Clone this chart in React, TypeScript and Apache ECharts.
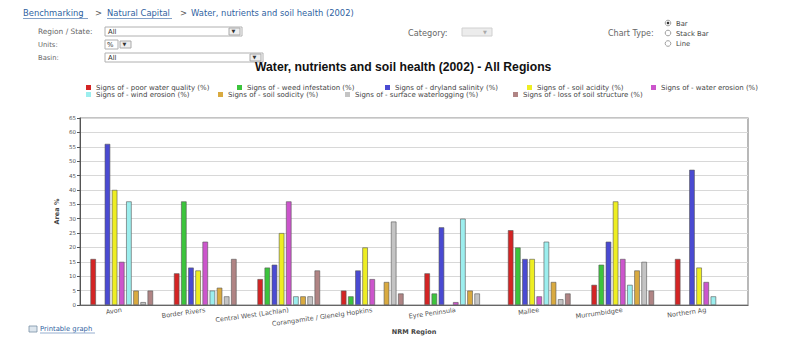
import React, { useEffect, useRef } from "react";
import * as echarts from "echarts";

const categories = [
  "Avon",
  "Border Rivers",
  "Central West (Lachlan)",
  "Corangamite / Glenelg Hopkins",
  "Eyre Peninsula",
  "Mallee",
  "Murrumbidgee",
  "Northern Ag",
];

const seriesNames = [
  "Signs of - poor water quality (%)",
  "Signs of - weed infestation (%)",
  "Signs of - dryland salinity (%)",
  "Signs of - soil acidity (%)",
  "Signs of - water erosion (%)",
  "Signs of - wind erosion (%)",
  "Signs of - soil sodicity (%)",
  "Signs of - surface waterlogging (%)",
  "Signs of - loss of soil structure (%)",
];

const poorWaterQuality = [16, 11, 9, 5, 11, 26, 7, 16];
const weedInfestation = [0, 36, 13, 3, 4, 20, 14, 0];
const drylandSalinity = [56, 13, 14, 12, 27, 16, 22, 47];
const soilAcidity = [40, 12, 25, 20, 0, 16, 36, 13];
const waterErosion = [15, 22, 36, 9, 1, 3, 16, 8];
const windErosion = [36, 5, 3, 0, 30, 22, 7, 3];
const soilSodicity = [5, 6, 3, 8, 5, 8, 12, 0];
const surfaceWaterlogging = [1, 3, 3, 29, 4, 2, 15, 0];
const lossOfSoilStructure = [5, 16, 12, 4, 0, 4, 5, 0];

const seriesValues = [
  poorWaterQuality,
  weedInfestation,
  drylandSalinity,
  soilAcidity,
  waterErosion,
  windErosion,
  soilSodicity,
  surfaceWaterlogging,
  lossOfSoilStructure,
];

const yTicks = { min: 0, max: 65, interval: 5 };

const colors = [
  "#d42424",
  "#3cc43c",
  "#4a4ad2",
  "#eeee22",
  "#cc55cc",
  "#9ceeee",
  "#d9aa40",
  "#c4c4c4",
  "#b08484",
];

const legendPos = [
  [86, 84],
  [237, 84],
  [385, 84],
  [527, 84],
  [651, 84],
  [86, 91],
  [218, 91],
  [345, 91],
  [513, 91],
];

const FONT = "DejaVu Sans, Verdana, sans-serif";
const TITLE_FONT = "Liberation Sans, Arial, sans-serif";
const X_LABEL_SIZE = 6.5;
const X_ROTATE = 8;

function textWidth(text: string, size: number, family: string) {
  const c = document.createElement("canvas").getContext("2d");
  if (!c) return text.length * size * 0.55;
  c.font = `${size}px ${family}`;
  return c.measureText(text).width;
}

export default function App() {
  const ref = useRef<HTMLDivElement>(null);
  useEffect(() => {
    document.body.style.margin = "0";
    const chart = echarts.init(ref.current!, null, { renderer: "svg" });
    const labelStyle = { fontSize: 6.8, fill: "#666", fontFamily: FONT };
    const linkStyle = { fontSize: 8.4, fill: "#2f5f9f", fontFamily: FONT };
    const boxStyle = { fill: "#fff", stroke: "#b0b0b0", lineWidth: 1 };
    const btnStyle = { fill: "#eee", stroke: "#aaa", lineWidth: 1 };
    const graphic: any[] = [
      { type: "text", left: 23, top: 8.5, style: { ...linkStyle, text: "Benchmarking" } },
      { type: "line", shape: { x1: 23, y1: 18.5, x2: 88, y2: 18.5 }, style: { stroke: "#2f5f9f", lineWidth: 0.6 } },
      { type: "text", left: 95, top: 8.5, style: { ...linkStyle, fill: "#555", text: ">" } },
      { type: "text", left: 107, top: 8.5, style: { ...linkStyle, text: "Natural Capital" } },
      { type: "line", shape: { x1: 107, y1: 18.5, x2: 172, y2: 18.5 }, style: { stroke: "#2f5f9f", lineWidth: 0.6 } },
      { type: "text", left: 180, top: 8.5, style: { ...linkStyle, fill: "#555", text: ">" } },
      { type: "text", left: 191, top: 8.5, style: { ...linkStyle, text: "Water, nutrients and soil health (2002)" } },

      { type: "text", left: 38, top: 28, style: { ...labelStyle, fontSize: 7.4, text: "Region / State:" } },
      { type: "rect", shape: { x: 105, y: 27, width: 137, height: 9 }, style: boxStyle },
      { type: "text", left: 108, top: 28.5, style: { ...labelStyle, fill: "#333", text: "All" } },
      { type: "rect", shape: { x: 229, y: 28, width: 11, height: 7 }, style: btnStyle },
      { type: "text", left: 231.5, top: 28.5, style: { ...labelStyle, fontSize: 5, fill: "#333", text: "▼" } },

      { type: "text", left: 38, top: 41, style: { ...labelStyle, text: "Units:" } },
      { type: "rect", shape: { x: 105, y: 40, width: 13, height: 9 }, style: boxStyle },
      { type: "text", left: 107, top: 41.5, style: { ...labelStyle, fill: "#333", text: "%" } },
      { type: "rect", shape: { x: 120, y: 41, width: 11, height: 7 }, style: btnStyle },
      { type: "text", left: 122.5, top: 41.5, style: { ...labelStyle, fontSize: 5, fill: "#333", text: "▼" } },

      { type: "text", left: 38, top: 54, style: { ...labelStyle, text: "Basin:" } },
      { type: "rect", shape: { x: 105, y: 53, width: 158, height: 9 }, style: boxStyle },
      { type: "text", left: 108, top: 54.5, style: { ...labelStyle, fill: "#333", text: "All" } },
      { type: "rect", shape: { x: 250, y: 54, width: 11, height: 7 }, style: btnStyle },
      { type: "text", left: 252.5, top: 54.5, style: { ...labelStyle, fontSize: 5, fill: "#333", text: "▼" } },

      { type: "text", left: 408, top: 28.5, style: { ...labelStyle, fontSize: 8.2, text: "Category:" } },
      { type: "rect", shape: { x: 462, y: 28, width: 30, height: 8 }, style: { fill: "#ececec", stroke: "#d0d0d0", lineWidth: 1 } },
      { type: "text", left: 483, top: 29, style: { ...labelStyle, fontSize: 5, fill: "#aaa", text: "▼" } },

      { type: "text", left: 608, top: 29.5, style: { ...labelStyle, fontSize: 8, text: "Chart Type:" } },
      { type: "circle", shape: { cx: 668, cy: 23, r: 2.8 }, style: { fill: "#fff", stroke: "#888", lineWidth: 0.8 } },
      { type: "circle", shape: { cx: 668, cy: 23, r: 1.3 }, style: { fill: "#333" } },
      { type: "text", left: 676, top: 20, style: { ...labelStyle, fill: "#444", text: "Bar" } },
      { type: "circle", shape: { cx: 668, cy: 33, r: 2.8 }, style: { fill: "#fff", stroke: "#888", lineWidth: 0.8 } },
      { type: "text", left: 676, top: 30, style: { ...labelStyle, fill: "#444", text: "Stack Bar" } },
      { type: "circle", shape: { cx: 668, cy: 43.5, r: 2.8 }, style: { fill: "#fff", stroke: "#888", lineWidth: 0.8 } },
      { type: "text", left: 676, top: 40.5, style: { ...labelStyle, fill: "#444", text: "Line" } },

      { type: "rect", shape: { x: 29, y: 326, width: 8, height: 6 }, style: { fill: "#dde6ee", stroke: "#7a8fa5", lineWidth: 0.8 } },
      { type: "text", left: 40, top: 325, style: { ...labelStyle, fill: "#2f5f9f", text: "Printable graph" } },
      { type: "line", shape: { x1: 40, y1: 333, x2: 95, y2: 333 }, style: { stroke: "#2f5f9f", lineWidth: 0.5 } },
    ];

    const legends = seriesNames.map((name, i) => ({
      data: [name],
      left: legendPos[i][0],
      top: legendPos[i][1],
      orient: "horizontal",
      icon: "rect",
      itemWidth: 5,
      itemHeight: 5,
      itemGap: 0,
      padding: 0,
      selectedMode: false,
      itemStyle: { borderWidth: 0 },
      textStyle: { fontSize: 7, color: "#444", fontFamily: FONT, padding: [0, 0, 0, 0] },
    }));

    const sinR = Math.sin((X_ROTATE * Math.PI) / 180);
    const categoryData = categories.map((c) => {
      const drop = (textWidth(c, X_LABEL_SIZE, FONT) / 2) * sinR;
      return {
        value: c,
        textStyle: { lineHeight: X_LABEL_SIZE + 2 + 2 * drop },
      };
    });

    chart.setOption({
      animation: false,
      backgroundColor: "#fff",
      color: colors,
      title: {
        text: "Water, nutrients and soil health (2002) - All Regions",
        left: 255,
        top: 61,
        padding: 0,
        textStyle: { fontSize: 12.2, fontWeight: "bold", color: "#111", fontFamily: TITLE_FONT },
      },
      legend: legends,
      graphic,
      grid: {
        left: 80,
        right: 51,
        top: 118,
        bottom: 32,
        containLabel: false,
        outerBoundsMode: "none",
        show: true,
        borderColor: "#8a8a8a",
        borderWidth: 1.2,
        backgroundColor: "#fff",
      },
      xAxis: {
        type: "category",
        data: categoryData,
        name: "NRM Region",
        nameLocation: "middle",
        nameGap: 23,
        nameMoveOverlap: false,
        nameTextStyle: { fontSize: 6.5, fontWeight: "bold", color: "#444", fontFamily: FONT },
        axisLine: { lineStyle: { color: "#666", width: 1 } },
        axisTick: { show: false },
        axisLabel: {
          fontSize: X_LABEL_SIZE,
          color: "#555",
          rotate: X_ROTATE,
          interval: 0,
          margin: 5,
          align: "center",
          verticalAlign: "top",
          fontFamily: FONT,
        },
      },
      yAxis: {
        type: "value",
        min: yTicks.min,
        max: yTicks.max,
        interval: yTicks.interval,
        name: "Area %",
        nameLocation: "middle",
        nameGap: 20,
        nameMoveOverlap: false,
        nameTextStyle: { fontSize: 6.5, fontWeight: "bold", color: "#444", fontFamily: FONT },
        axisLine: { show: true, lineStyle: { color: "#555", width: 1 } },
        axisTick: { show: true, length: 3, lineStyle: { color: "#555" } },
        axisLabel: { fontSize: 5.5, color: "#555", margin: 4, fontFamily: FONT },
        splitLine: { lineStyle: { color: "#d8d8d8", width: 1 } },
      },
      series: seriesNames.map((name, i) => ({
        name,
        type: "bar",
        data: seriesValues[i].map((v) => (v === 0 ? null : v)),
        barCategoryGap: "25%",
        barGap: "30%",
        itemStyle: { color: colors[i], borderColor: "#555", borderWidth: 0.6 },
      })),
    });
    return () => chart.dispose();
  }, []);
  return <div ref={ref} style={{ width: 799, height: 337 }} />;
}
